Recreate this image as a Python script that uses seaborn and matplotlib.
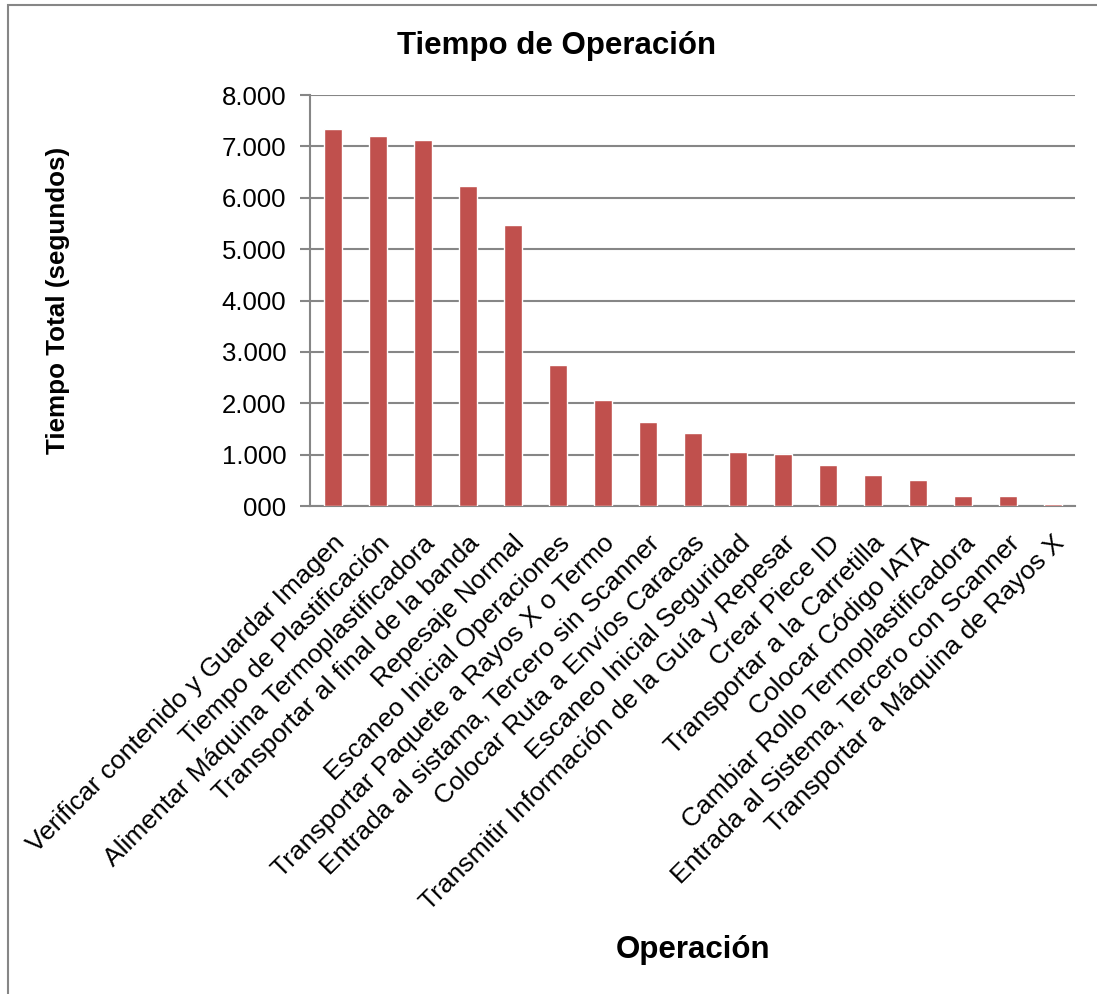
import matplotlib
matplotlib.use("Agg")
import matplotlib.pyplot as plt
import seaborn as sns
import pandas as pd
from matplotlib.patches import Rectangle
from matplotlib.ticker import FixedLocator

operaciones = [
    "Verificar contenido y Guardar Imagen",
    "Tiempo de Plastificación",
    "Alimentar Máquina Termoplastificadora",
    "Transportar al final de la banda",
    "Repesaje Normal",
    "Escaneo Inicial Operaciones",
    "Transportar Paquete a Rayos X o Termo",
    "Entrada al sistama, Tercero sin Scanner",
    "Colocar Ruta a Envíos Caracas",
    "Escaneo Inicial Seguridad",
    "Transmitir Información de la Guía y Repesar",
    "Crear Piece ID",
    "Transportar a la Carretilla",
    "Colocar Código IATA",
    "Cambiar Rollo Termoplastificadora",
    "Entrada al Sistema, Tercero con Scanner",
    "Transportar a Máquina de Rayos X",
]
tiempo_total = [7345, 7203, 7118, 6230, 5465, 2753, 2068, 1631, 1422,
                1050, 1018, 802, 613, 509, 196, 189, 46]
y_ticks = [0, 1000, 2000, 3000, 4000, 5000, 6000, 7000, 8000]
y_tick_labels = ["000", "1.000", "2.000", "3.000", "4.000",
                 "5.000", "6.000", "7.000", "8.000"]

sns.set_theme(style="white")
plt.rcParams["font.family"] = ["Liberation Sans", "DejaVu Sans"]
plt.rcParams["text.color"] = "black"

df = pd.DataFrame({"Operación": operaciones, "Tiempo": tiempo_total})

fig = plt.figure(figsize=(10.97, 9.94), dpi=100)
ax = fig.add_axes([0.2826, 0.4909, 0.6974, 0.4135])

sns.barplot(data=df, x="Operación", y="Tiempo", color="#C0504D",
            saturation=1, width=0.4, ax=ax, order=operaciones, zorder=3)

ax.set_ylim(0, 8000)
ax.set_xlim(-0.5, len(operaciones) - 0.5)
ax.yaxis.set_major_locator(FixedLocator(y_ticks))
ax.set_yticklabels(y_tick_labels, fontsize=18.5, color="black")
ax.grid(axis="y", color="#868686", linewidth=1.5, zorder=0)
ax.set_axisbelow(True)

for side in ("top", "right"):
    ax.spines[side].set_visible(False)
for side in ("left", "bottom"):
    ax.spines[side].set_color("#868686")
    ax.spines[side].set_linewidth(1.5)
    ax.spines[side].set_zorder(2)

ax.tick_params(axis="y", which="major", left=True, length=7, width=1.5,
               color="#868686", pad=10)
ax.tick_params(axis="x", bottom=False, pad=12)
ax.set_xticks(range(len(operaciones)))
ax.set_xticklabels(operaciones, rotation=45, ha="right", va="top",
                   rotation_mode="anchor", fontsize=19, color="black")
ax.set_xlabel("")
ax.set_ylabel("")

fig.text(0.507, 0.954, "Tiempo de Operación", ha="center", va="center",
         fontsize=22.5, fontweight="bold", color="black")
fig.text(0.632, 0.044, "Operación", ha="center", va="center",
         fontsize=22.5, fontweight="bold", color="black")
fig.text(0.053, 0.698, "Tiempo Total (segundos)", ha="center", va="center",
         rotation=90, fontsize=18.7, fontweight="bold", color="black")

# chart-area frame
fig.add_artist(Rectangle((0.0075, -0.05), 1.2, 1.045, transform=fig.transFigure,
                         fill=False, edgecolor="#868686", linewidth=1.5))

fig.savefig("out.png", dpi=100, facecolor="white")
